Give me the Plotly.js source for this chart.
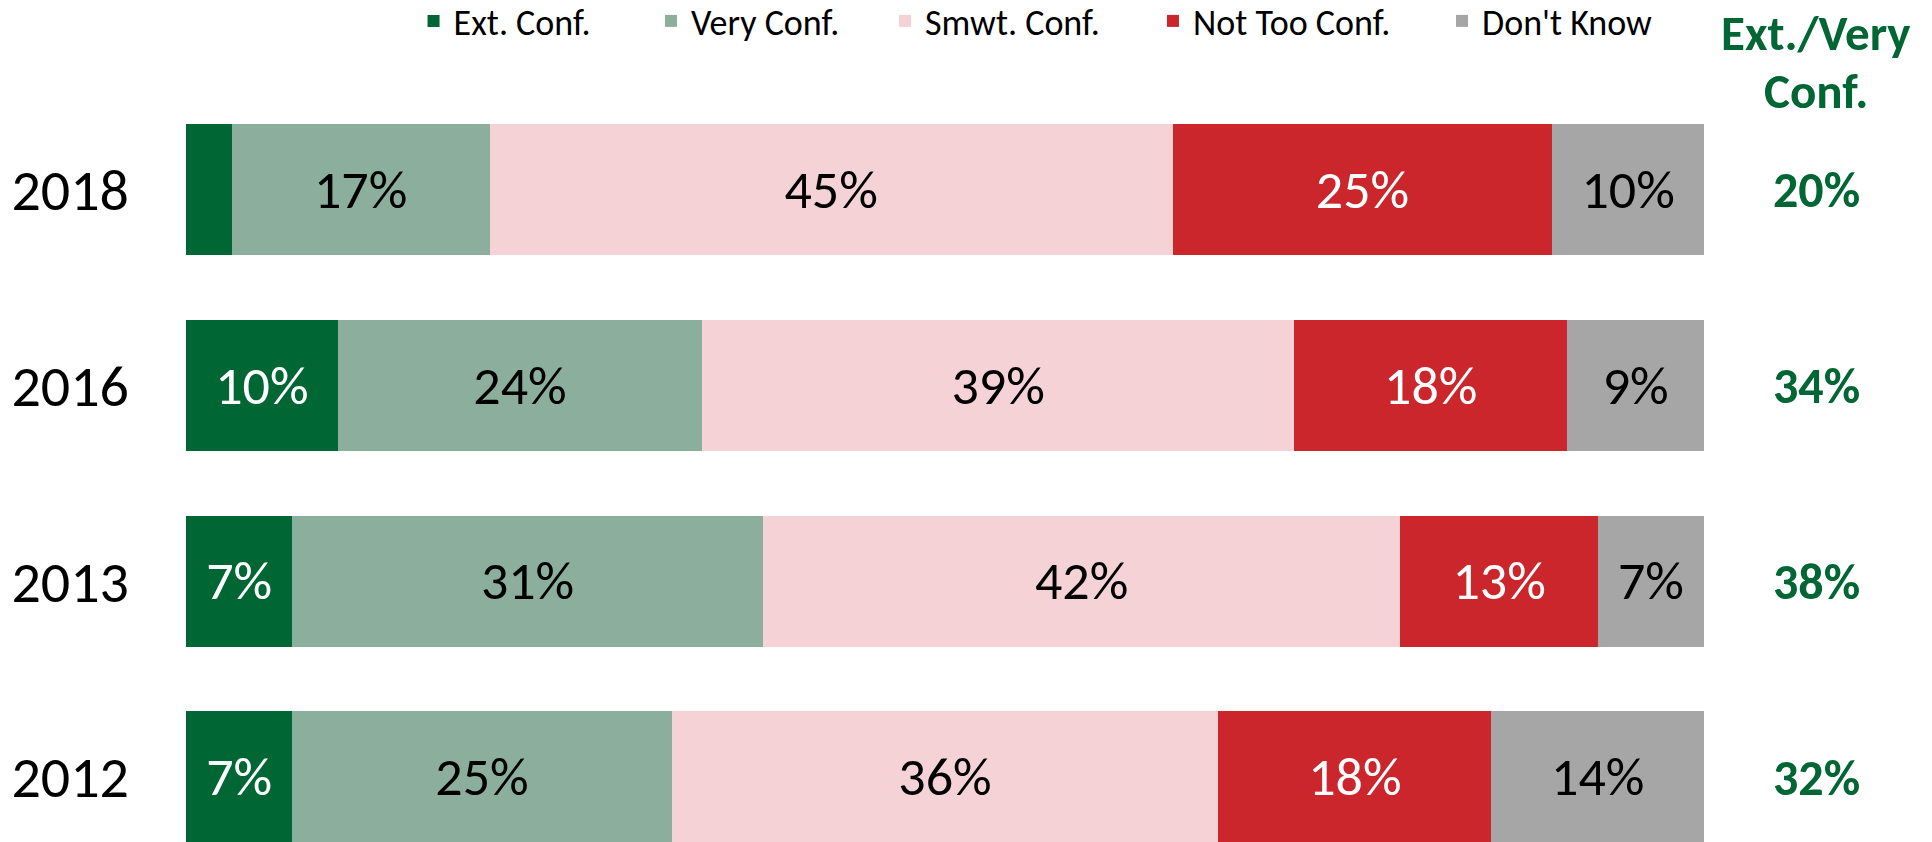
<!DOCTYPE html>
<html>
<head>
<meta charset="utf-8">
<script src="https://cdn.plot.ly/plotly-3.0.1.min.js"></script>
<style>html,body{margin:0;padding:0;background:#fff;}#chart{width:1932px;height:842px;}</style>
</head>
<body>
<div id="chart"></div>
<script>
const years = ['2018', '2016', '2013', '2012'];
const seriesNames = ['Ext. Conf.', 'Very Conf.', 'Smwt. Conf.', 'Not Too Conf.', "Don't Know"];
const extConf = [3, 10, 7, 7];
const veryConf = [17, 24, 31, 25];
const smwtConf = [45, 39, 42, 36];
const notTooConf = [25, 18, 13, 18];
const dontKnow = [10, 9, 7, 14];
const extVeryTotal = [20, 34, 38, 32];
const columnHeader = ['Ext./Very', 'Conf.'];

const colors = ['#006633', '#8BAF9C', '#F4D2D5', '#CC262D', '#A6A6A6'];
const textColors = ['#ffffff', '#000000', '#000000', '#ffffff', '#000000'];
const legendX = [0.1499, 0.3063, 0.4605, 0.6370, 0.8274];
const FONT = "Carlito, Calibri, 'Liberation Sans', Arial, sans-serif";

const legendIds = ['legend', 'legend2', 'legend3', 'legend4', 'legend5'];
const allSeries = [extConf, veryConf, smwtConf, notTooConf, dontKnow];
const traces = allSeries.map((vals, i) => ({
  type: 'bar',
  orientation: 'h',
  name: seriesNames[i],
  legend: legendIds[i],
  y: years,
  x: vals,
  width: 0.67,
  marker: {color: colors[i], line: {width: 0}},
  text: vals.map(v => v >= 5 ? v + '%' : ''),
  textposition: 'inside',
  insidetextanchor: 'middle',
  textangle: 0,
  constraintext: 'none',
  textfont: {family: FONT, size: 54, color: textColors[i]},
  hoverinfo: 'skip'
}));

const annotations = years.map((y, i) => ({
  xref: 'paper', yref: 'y', x: 1.0738, y: i,
  text: '<b>' + extVeryTotal[i] + '%</b>', showarrow: false,
  xanchor: 'center', yanchor: 'middle',
  font: {family: FONT, size: 50, color: '#006633'}
}));
annotations.push({
  xref: 'paper', yref: 'paper', x: 1.0738, y: (842 - 33) / 750,
  text: '<b>' + columnHeader[0] + '</b>', showarrow: false,
  xanchor: 'center', yanchor: 'middle',
  font: {family: FONT, size: 49, color: '#006633'}
});
annotations.push({
  xref: 'paper', yref: 'paper', x: 1.0738, y: (842 - 91) / 750,
  text: '<b>' + columnHeader[1] + '</b>', showarrow: false,
  xanchor: 'center', yanchor: 'middle',
  font: {family: FONT, size: 49, color: '#006633'}
});

const layout = {
  width: 1932, height: 842,
  margin: {l: 186, r: 228, t: 92, b: 0, autoexpand: false},
  paper_bgcolor: '#ffffff', plot_bgcolor: '#ffffff',
  barmode: 'stack',
  bargap: 0.33,
  showlegend: true,
  xaxis: {range: [0, 100], visible: false, fixedrange: true},
  yaxis: {
    type: 'category',
    categoryorder: 'array', categoryarray: years,
    range: [3.332, -0.5],
    showgrid: false, zeroline: false, showline: false,
    ticks: '', ticklabelstandoff: 56,
    tickfont: {family: FONT, size: 58, color: '#000000'},
    fixedrange: true
  },
  annotations: annotations
};
legendIds.forEach((id, i) => {
  layout[id] = {
    orientation: 'h',
    xref: 'paper', yref: 'container',
    x: legendX[i], xanchor: 'left',
    y: 1 - 21 / 842, yanchor: 'middle',
    bgcolor: 'rgba(0,0,0,0)',
    font: {family: FONT, size: 36, color: '#000000'},
    itemclick: false, itemdoubleclick: false
  };
});

Plotly.newPlot('chart', traces, layout, {displayModeBar: false, staticPlot: true});
</script>
</body>
</html>
